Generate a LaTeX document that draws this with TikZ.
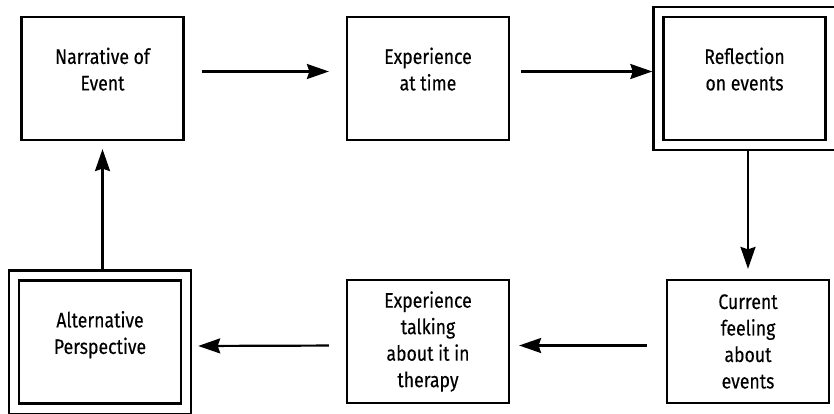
\documentclass[tikz,border=0pt]{standalone}
\usepackage{fontspec}
\setmainfont[FakeStretch=0.84,FakeBold=0.3]{Fira Sans}
\usetikzlibrary{arrows.meta,fit}

\begin{document}
\begin{tikzpicture}[x=1pt, y=-1pt,
  stage/.style={draw, line width=2.2pt, minimum width=162pt, minimum height=123pt,
    align=center, font=\fontsize{21}{26.5}\selectfont},
  lifted/.style={text depth=19pt},
  frame/.style={draw, line width=2.2pt, inner sep=9pt},
  flow/.style={line width=2.2pt, -{Stealth[length=22pt,width=15pt,inset=2.5pt]}}]

\useasboundingbox (0,0) rectangle (834,414);

\node[stage, lifted] (narr)  at (102.5,78.5) {Narrative of\\Event};
\node[stage, lifted] (expat) at (428,78.5)   {Experience\\at time};
\node[stage, lifted] (refl)  at (744.5,78.5) {Reflection\\on events};
\node[frame, fit=(refl)] (reflout) {};

\node[stage] (curr) at (748,341.5) {Current\\feeling\\about\\events};
\node[stage] (talk) at (428,341.5) {Experience\\talking\\about it in\\therapy};
\node[stage, lifted] (alt)  at (100,342)   {Alternative\\Perspective};
\node[frame, fit=(alt)] (altout) {};

\begin{scope}[flow]
\draw[shorten <=17pt, shorten >=17pt] ([yshift=7pt]narr.east) -- ([yshift=7pt]expat.west); %narr-expat
\draw[shorten <=11pt] ([yshift=7pt]expat.east) -- ([yshift=7pt]reflout.west); %expat-refl
\draw[shorten >=10pt] (curr.north |- reflout.south) -- (curr.north); %refl-curr
\draw[shorten <=19pt, shorten >=9pt] ([yshift=-4pt]curr.west) -- ([yshift=-4pt]talk.east); %curr-talk
\draw[shorten <=17pt, shorten >=6pt] ([yshift=-4pt]talk.west) -- ([yshift=-4pt]altout.east); %talk-alt
\draw[shorten >=8pt] (narr.south |- altout.north) -- (narr.south); %alt-narr
\end{scope}

\end{tikzpicture}
\end{document}
